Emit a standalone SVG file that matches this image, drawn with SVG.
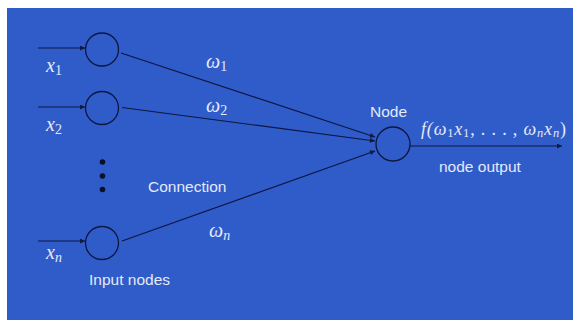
<svg xmlns="http://www.w3.org/2000/svg" width="573" height="320" viewBox="0 0 573 320">
  <defs>
    <marker id="arrow" viewBox="0 0 10 10" refX="10" refY="5" markerWidth="7" markerHeight="5" markerUnits="userSpaceOnUse" orient="auto">
      <path d="M0,0 L10,5 L0,10 z" fill="#111a3a"/>
    </marker>
    <style>
      .bg { fill: #2f5cc9; }
      .node { fill: none; stroke: #0e1640; stroke-width: 1.3; }
      .edge { stroke: #0e1640; stroke-width: 1.2; fill: none; marker-end: url(#arrow); }
      .dot { fill: #0a0f2a; }
      .lbl { font-family: "Liberation Sans", Arial, sans-serif; font-size: 15.5px; fill: #e4eaf8; }
      .math { font-family: "Liberation Serif", "DejaVu Serif", serif; font-style: italic; font-size: 20px; fill: #e4eaf8; }
      .formula { font-size: 18px; }
      .sub { font-style: normal; font-size: 14px; }
      .subi { font-size: 14px; }
      .formula .sub, .formula .subi { font-size: 12.5px; }
    </style>
  </defs>

  <rect class="bg" x="7" y="8" width="566" height="312"/>

  <!-- connectors -->
  <g id="connectors">
    <line class="edge" x1="38" y1="48" x2="85" y2="48"/>
    <line class="edge" x1="38" y1="107" x2="85" y2="107"/>
    <line class="edge" x1="38" y1="241" x2="85" y2="241"/>
    <line class="edge" x1="121" y1="53" x2="375" y2="137"/>
    <line class="edge" x1="122" y1="107.5" x2="375" y2="141"/>
    <line class="edge" x1="122" y1="241" x2="375" y2="151"/>
    <line class="edge" x1="410" y1="146" x2="562" y2="146"/>
  </g>

  <!-- input nodes -->
  <g id="input1">
    <circle class="node" cx="102" cy="49.5" r="16.5"/>
    <text class="math" x="46" y="72">x<tspan class="sub" dy="3">1</tspan></text>
  </g>
  <g id="input2">
    <circle class="node" cx="102" cy="108" r="16.5"/>
    <text class="math" x="46" y="131">x<tspan class="sub" dy="3">2</tspan></text>
  </g>
  <g id="ellipsis">
    <circle class="dot" cx="102.5" cy="162" r="2.8"/>
    <circle class="dot" cx="102.5" cy="176" r="2.8"/>
    <circle class="dot" cx="102.5" cy="189.5" r="2.8"/>
  </g>
  <g id="inputN">
    <circle class="node" cx="102" cy="243" r="16.5"/>
    <text class="math" x="46" y="259">x<tspan class="subi" dy="3">n</tspan></text>
  </g>
  <text class="lbl" x="89" y="285">Input nodes</text>

  <!-- weights -->
  <g id="weights">
    <text class="math" x="206" y="68">ω<tspan class="sub" dy="3">1</tspan></text>
    <text class="math" x="206" y="112">ω<tspan class="sub" dy="3">2</tspan></text>
    <text class="math" x="209" y="237">ω<tspan class="subi" dy="3">n</tspan></text>
    <text class="lbl" x="148" y="191.5">Connection</text>
  </g>

  <!-- output node -->
  <g id="output">
    <circle class="node" cx="393" cy="144" r="17"/>
    <text class="lbl" x="370" y="116.5">Node</text>
    <text class="math formula" x="421" y="135" textLength="145" lengthAdjust="spacing">f(ω<tspan class="sub" dy="2">1</tspan><tspan dy="-2">x</tspan><tspan class="sub" dy="2">1</tspan><tspan dy="-2" font-style="normal">, . . . , </tspan>ω<tspan class="subi" dy="2">n</tspan><tspan dy="-2">x</tspan><tspan class="subi" dy="2">n</tspan><tspan dy="-2" font-style="normal">)</tspan></text>
    <text class="lbl" x="439" y="171.5">node output</text>
  </g>
</svg>
